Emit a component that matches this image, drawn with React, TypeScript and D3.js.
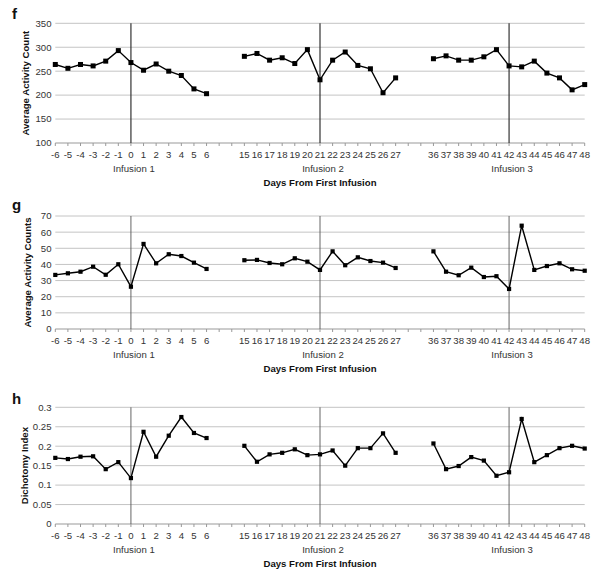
import React from "react";
import * as d3 from "d3";

// Category slots on the x axis ("" = empty slot)
const slotLabels: string[] = [
  "-6", "-5", "-4", "-3", "-2", "-1", "0", "1", "2", "3", "4", "5", "6", "", "",
  "15", "16", "17", "18", "19", "20", "21", "22", "23", "24", "25", "26", "27", "", "",
  "36", "37", "38", "39", "40", "41", "42", "43", "44", "45", "46", "47", "48",
];

const days: number[] = [
  -6, -5, -4, -3, -2, -1, 0, 1, 2, 3, 4, 5, 6,
  15, 16, 17, 18, 19, 20, 21, 22, 23, 24, 25, 26, 27,
  36, 37, 38, 39, 40, 41, 42, 43, 44, 45, 46, 47, 48,
];

const activityCount: number[] = [
  264, 256, 264, 261, 271, 293, 268, 252, 265, 250, 241, 213, 203,
  281, 287, 273, 278, 266, 295, 232, 273, 290, 262, 255, 205, 236,
  276, 282, 273, 273, 280, 295, 261, 259, 271, 246, 236, 211, 222,
];

const activityCounts: number[] = [
  33.5, 34.5, 35.5, 38.6, 33.6, 40.1, 26.2, 52.7, 40.7, 46.3, 45.2, 41.1, 37.2,
  42.6, 42.8, 40.9, 40.1, 43.8, 41.7, 36.6, 48.1, 39.5, 44.4, 42.1, 41.1, 37.8,
  48.1, 35.5, 33.3, 38.0, 32.2, 32.7, 24.8, 64.0, 36.6, 39.0, 40.7, 37.0, 36.1,
];

const dichotomyIndex: number[] = [
  0.170, 0.167, 0.173, 0.174, 0.141, 0.159, 0.118, 0.237, 0.173, 0.227, 0.275, 0.234, 0.221,
  0.201, 0.160, 0.179, 0.183, 0.192, 0.177, 0.179, 0.189, 0.150, 0.195, 0.195, 0.233, 0.183,
  0.207, 0.141, 0.149, 0.172, 0.163, 0.124, 0.133, 0.270, 0.159, 0.177, 0.195, 0.201, 0.194,
];

const infusionDays: number[] = [0, 21, 42];
const infusionLabels: string[] = ["Infusion 1", "Infusion 2", "Infusion 3"];
const xTitle = "Days From First Infusion";

const fTicks: number[] = [100, 150, 200, 250, 300, 350];
const gTicks: number[] = [0, 10, 20, 30, 40, 50, 60, 70];
const hTicks: number[] = [0, 0.05, 0.1, 0.15, 0.2, 0.25, 0.3];

const panels = [
  { letter: "f", title: "Average Activity Count", values: activityCount, ticks: fTicks, domain: [100, 350], top: 23.3, bottom: 143, titleX: 26, letterY: 19, vColor: "#333", vWidth: 1.2, marker: 5 },
  { letter: "g", title: "Average Activity Counts", values: activityCounts, ticks: gTicks, domain: [0, 70], top: 216, bottom: 329, titleX: 28, letterY: 210, vColor: "#555", vWidth: 0.9, marker: 4.2 },
  { letter: "h", title: "Dichotomy Index", values: dichotomyIndex, ticks: hTicks, domain: [0, 0.3], top: 407.3, bottom: 524, titleX: 25, letterY: 404, vColor: "#555", vWidth: 0.9, marker: 4.2 },
];

const FONT = "'Liberation Sans', Arial, Helvetica, sans-serif";

export default function App() {
  const x = d3.scalePoint<number>().domain(d3.range(slotLabels.length)).range([55.3, 584.7]);
  const slotOf = (day: number) => slotLabels.indexOf(String(day));

  return (
    <svg width={600} height={572} style={{ position: "absolute", left: 0, top: 0, background: "#fff" }} fontFamily={FONT}>
      <rect width={600} height={572} fill="#fff" />
      {panels.map((p) => {
        const y = d3.scaleLinear().domain(p.domain).range([p.bottom, p.top]);
        const slotVals: (number | null)[] = slotLabels.map(() => null);
        days.forEach((d, i) => { slotVals[slotOf(d)] = p.values[i]; });
        const line = d3.line<number | null>()
          .defined((v) => v !== null)
          .x((_, i) => x(i) as number)
          .y((v) => y(v as number));
        const fmt = (v: number) => (p.letter === "h" ? String(+v.toFixed(2)) : String(v));
        const x0 = x(0) as number;
        const x1 = x(slotLabels.length - 1) as number;
        return (
          <g key={p.letter}>
            <text x={12} y={p.letterY} fontSize={15} fontWeight="bold" fill="#111">{p.letter}</text>
            {p.ticks.map((t) => (
              <g key={t}>
                {t !== p.domain[0] && (
                  <line x1={x0} x2={x1} y1={y(t)} y2={y(t)} stroke="#c4c4c4" strokeWidth={1} />
                )}
                <text x={51.5} y={y(t)} dy="0.35em" textAnchor="end" fontSize={9.6} fill="#333">{fmt(t)}</text>
              </g>
            ))}
            <line x1={x0} x2={x1} y1={p.bottom} y2={p.bottom} stroke="#999" strokeWidth={1} />
            {slotLabels.map((lab, i) => (
              <g key={i}>
                <line x1={x(i)} x2={x(i)} y1={p.bottom} y2={p.bottom + 3} stroke="#999" strokeWidth={1} />
                {lab !== "" && (
                  <text x={x(i)} y={p.bottom + 12} dy="0.35em" textAnchor="middle" fontSize={9.6} fill="#333">{lab}</text>
                )}
              </g>
            ))}
            {infusionDays.map((d, k) => (
              <g key={d}>
                <line x1={x(slotOf(d))} x2={x(slotOf(d))} y1={p.top} y2={p.bottom} stroke={p.vColor} strokeWidth={p.vWidth} />
                <text x={(x(slotOf(d)) as number) + 3} y={p.bottom + 26} dy="0.35em" textAnchor="middle" fontSize={9.6} fill="#333">{infusionLabels[k]}</text>
              </g>
            ))}
            <text x={320} y={p.bottom + 40} dy="0.35em" textAnchor="middle" fontSize={9.6} fontWeight="bold" fill="#111">{xTitle}</text>
            <text transform={`translate(${p.titleX},${(p.top + p.bottom) / 2}) rotate(-90)`} dy="0.35em" textAnchor="middle" fontSize={9.6} fontWeight="bold" fill="#111">{p.title}</text>
            <path d={line(slotVals) || ""} fill="none" stroke="#000" strokeWidth={1.4} />
            {slotVals.map((v, i) => v === null ? null : (
              <rect key={i} x={(x(i) as number) - p.marker / 2} y={y(v) - p.marker / 2} width={p.marker} height={p.marker} fill="#000" />
            ))}
          </g>
        );
      })}
    </svg>
  );
}
